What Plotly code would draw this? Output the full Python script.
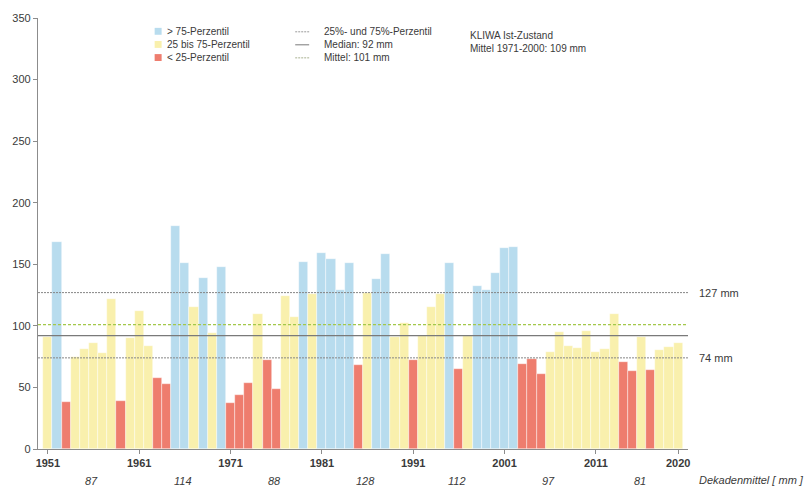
import plotly.graph_objects as go

# ---------------- data ----------------
years = list(range(1951, 2021))
values = [91, 168, 38, 75, 81, 86, 78, 122, 39, 90,
          112, 84, 58, 53, 181, 151, 115, 139, 94, 148,
          37, 44, 54, 110, 72, 49, 124, 107, 152, 126,
          159, 154, 129, 151, 68, 127, 138, 158, 91, 102,
          72, 92, 115, 126, 151, 65, 92, 132, 129, 143,
          163, 164, 69, 73, 61, 79, 95, 84, 82, 96,
          79, 81, 110, 71, 63, 91, 64, 80, 83, 86]
classes = ["m", "h", "l", "m", "m", "m", "m", "m", "l", "m",
           "m", "m", "l", "l", "h", "h", "m", "h", "m", "h",
           "l", "l", "l", "m", "l", "l", "m", "m", "h", "m",
           "h", "h", "h", "h", "l", "m", "h", "h", "m", "m",
           "l", "m", "m", "m", "h", "l", "m", "h", "h", "h",
           "h", "h", "l", "l", "l", "m", "m", "m", "m", "m",
           "m", "m", "m", "l", "l", "m", "l", "m", "m", "m"]
class_colors = {"h": "#b8dcee", "m": "#f9f0ad", "l": "#ee7d6e"}
class_labels = ["> 75-Perzentil", "25 bis 75-Perzentil", "< 25-Perzentil"]

p25, p75, median, mean = 74, 127, 92, 101
decade_starts = [1951, 1961, 1971, 1981, 1991, 2001, 2011]
decade_means = [87, 114, 88, 128, 112, 97, 81]
tick_years = [1951, 1961, 1971, 1981, 1991, 2001, 2011, 2020]
y_ticks = [0, 50, 100, 150, 200, 250, 300, 350]

# ---------------- layout geometry ----------------
W, H = 806, 493
L, R, T, B = 36, 118, 12, 44
pw, ph = W - L - R, H - T - B


def px(x):
    return (x - L) / pw


def py(y):
    return (H - B - y) / ph


FONT = "Liberation Sans, Arial, sans-serif"
TXT = "#3a3a3a"

fig = go.Figure()
fig.add_trace(go.Bar(
    x=years, y=values, width=1.0,
    marker=dict(color=[class_colors[c] for c in classes],
                line=dict(color="rgba(255,255,255,0.7)", width=0.6)),
    showlegend=False, hoverinfo="x+y"))

# reference lines
for val, col, dash, w in [(p75, "#858585", "2px,1px", 1.0), (p25, "#858585", "2px,1px", 1.0),
                          (median, "#7a7a7a", "solid", 1.3), (mean, "#a3c84a", "3px,2px", 1.4)]:
    fig.add_shape(type="line", xref="paper", yref="y", x0=0, x1=1, y0=val, y1=val,
                  line=dict(color=col, width=w, dash=dash), layer="above")

annots = []
for val in [p75, p25]:
    annots.append(dict(x=px(697), y=val, xref="paper", yref="y", text=f"{val} mm",
                       showarrow=False, xanchor="left", yanchor="middle",
                       font=dict(size=11, color=TXT, family=FONT)))

# decade means
for ds, dm in zip(decade_starts, decade_means):
    annots.append(dict(x=ds + 4.8, y=py(481), xref="x", yref="paper", text=f"<i>{dm}</i>",
                       showarrow=False, xanchor="center", yanchor="middle",
                       font=dict(size=11, color=TXT, family=FONT)))
annots.append(dict(x=px(697), y=py(480), xref="paper", yref="paper",
                   text="<i>Dekadenmittel [ mm ]</i>", showarrow=False,
                   xanchor="left", yanchor="middle",
                   font=dict(size=11, color=TXT, family=FONT)))

# legend: colour boxes
shapes = []
for i, (c, lab) in enumerate(zip(["h", "m", "l"], class_labels)):
    yc = 25.5 + i * 13.3
    shapes.append(dict(type="rect", xref="paper", yref="paper",
                       x0=px(153), x1=px(160), y0=py(yc + 3.5), y1=py(yc - 3.5),
                       fillcolor=class_colors[c], line=dict(width=0)))
    annots.append(dict(x=px(163), y=py(yc), xref="paper", yref="paper", text=lab,
                       showarrow=False, xanchor="left", yanchor="middle",
                       font=dict(size=10, color=TXT, family=FONT)))

# legend: line samples
line_items = [("25%- und 75%-Perzentil", "#9a9a9a", "2px,1px"),
              (f"Median: {median} mm", "#7a7a7a", "solid"),
              (f"Mittel: {mean} mm", "#a8b090", "2px,1px")]
for i, (lab, col, dash) in enumerate(line_items):
    yc = 26 + i * 13.2
    shapes.append(dict(type="line", xref="paper", yref="paper",
                       x0=px(294), x1=px(308), y0=py(yc), y1=py(yc),
                       line=dict(color=col, width=1, dash=dash)))
    annots.append(dict(x=px(321), y=py(yc), xref="paper", yref="paper", text=lab,
                       showarrow=False, xanchor="left", yanchor="middle",
                       font=dict(size=10, color=TXT, family=FONT)))

annots.append(dict(x=px(467), y=py(29.5), xref="paper", yref="paper", text="KLIWA Ist-Zustand",
                   showarrow=False, xanchor="left", yanchor="middle",
                   font=dict(size=10, color=TXT, family=FONT)))
annots.append(dict(x=px(467), y=py(42.5), xref="paper", yref="paper",
                   text="Mittel 1971-2000: 109 mm",
                   showarrow=False, xanchor="left", yanchor="middle",
                   font=dict(size=10, color=TXT, family=FONT)))

fig.update_layout(
    width=W, height=H,
    margin=dict(l=L, r=R, t=T, b=B, pad=0),
    paper_bgcolor="white", plot_bgcolor="white",
    bargap=0,
    shapes=list(fig.layout.shapes) + shapes,
    annotations=annots,
    font=dict(family=FONT, color=TXT, size=11),
    xaxis=dict(range=[1949.92, 2021.08], tickmode="array", tickvals=tick_years,
               ticktext=[f"<b>{y}</b>" for y in tick_years],
               showgrid=False, zeroline=False, showline=True, linecolor="#8c8c8c",
               linewidth=1.2, ticks="outside", ticklen=4, tickcolor="#8c8c8c",
               tickfont=dict(size=11, color=TXT, family=FONT)),
    yaxis=dict(range=[0, 350], tickvals=y_ticks, showgrid=False, zeroline=False,
               showline=True, linecolor="#8c8c8c", linewidth=1.2, ticks="outside",
               ticklen=4, tickcolor="#8c8c8c",
               tickfont=dict(size=11, color=TXT, family=FONT)),
)

fig.write_html("out.html", config={"displayModeBar": False},
               post_script="document.body.style.margin='0';document.body.style.overflow='hidden';")
